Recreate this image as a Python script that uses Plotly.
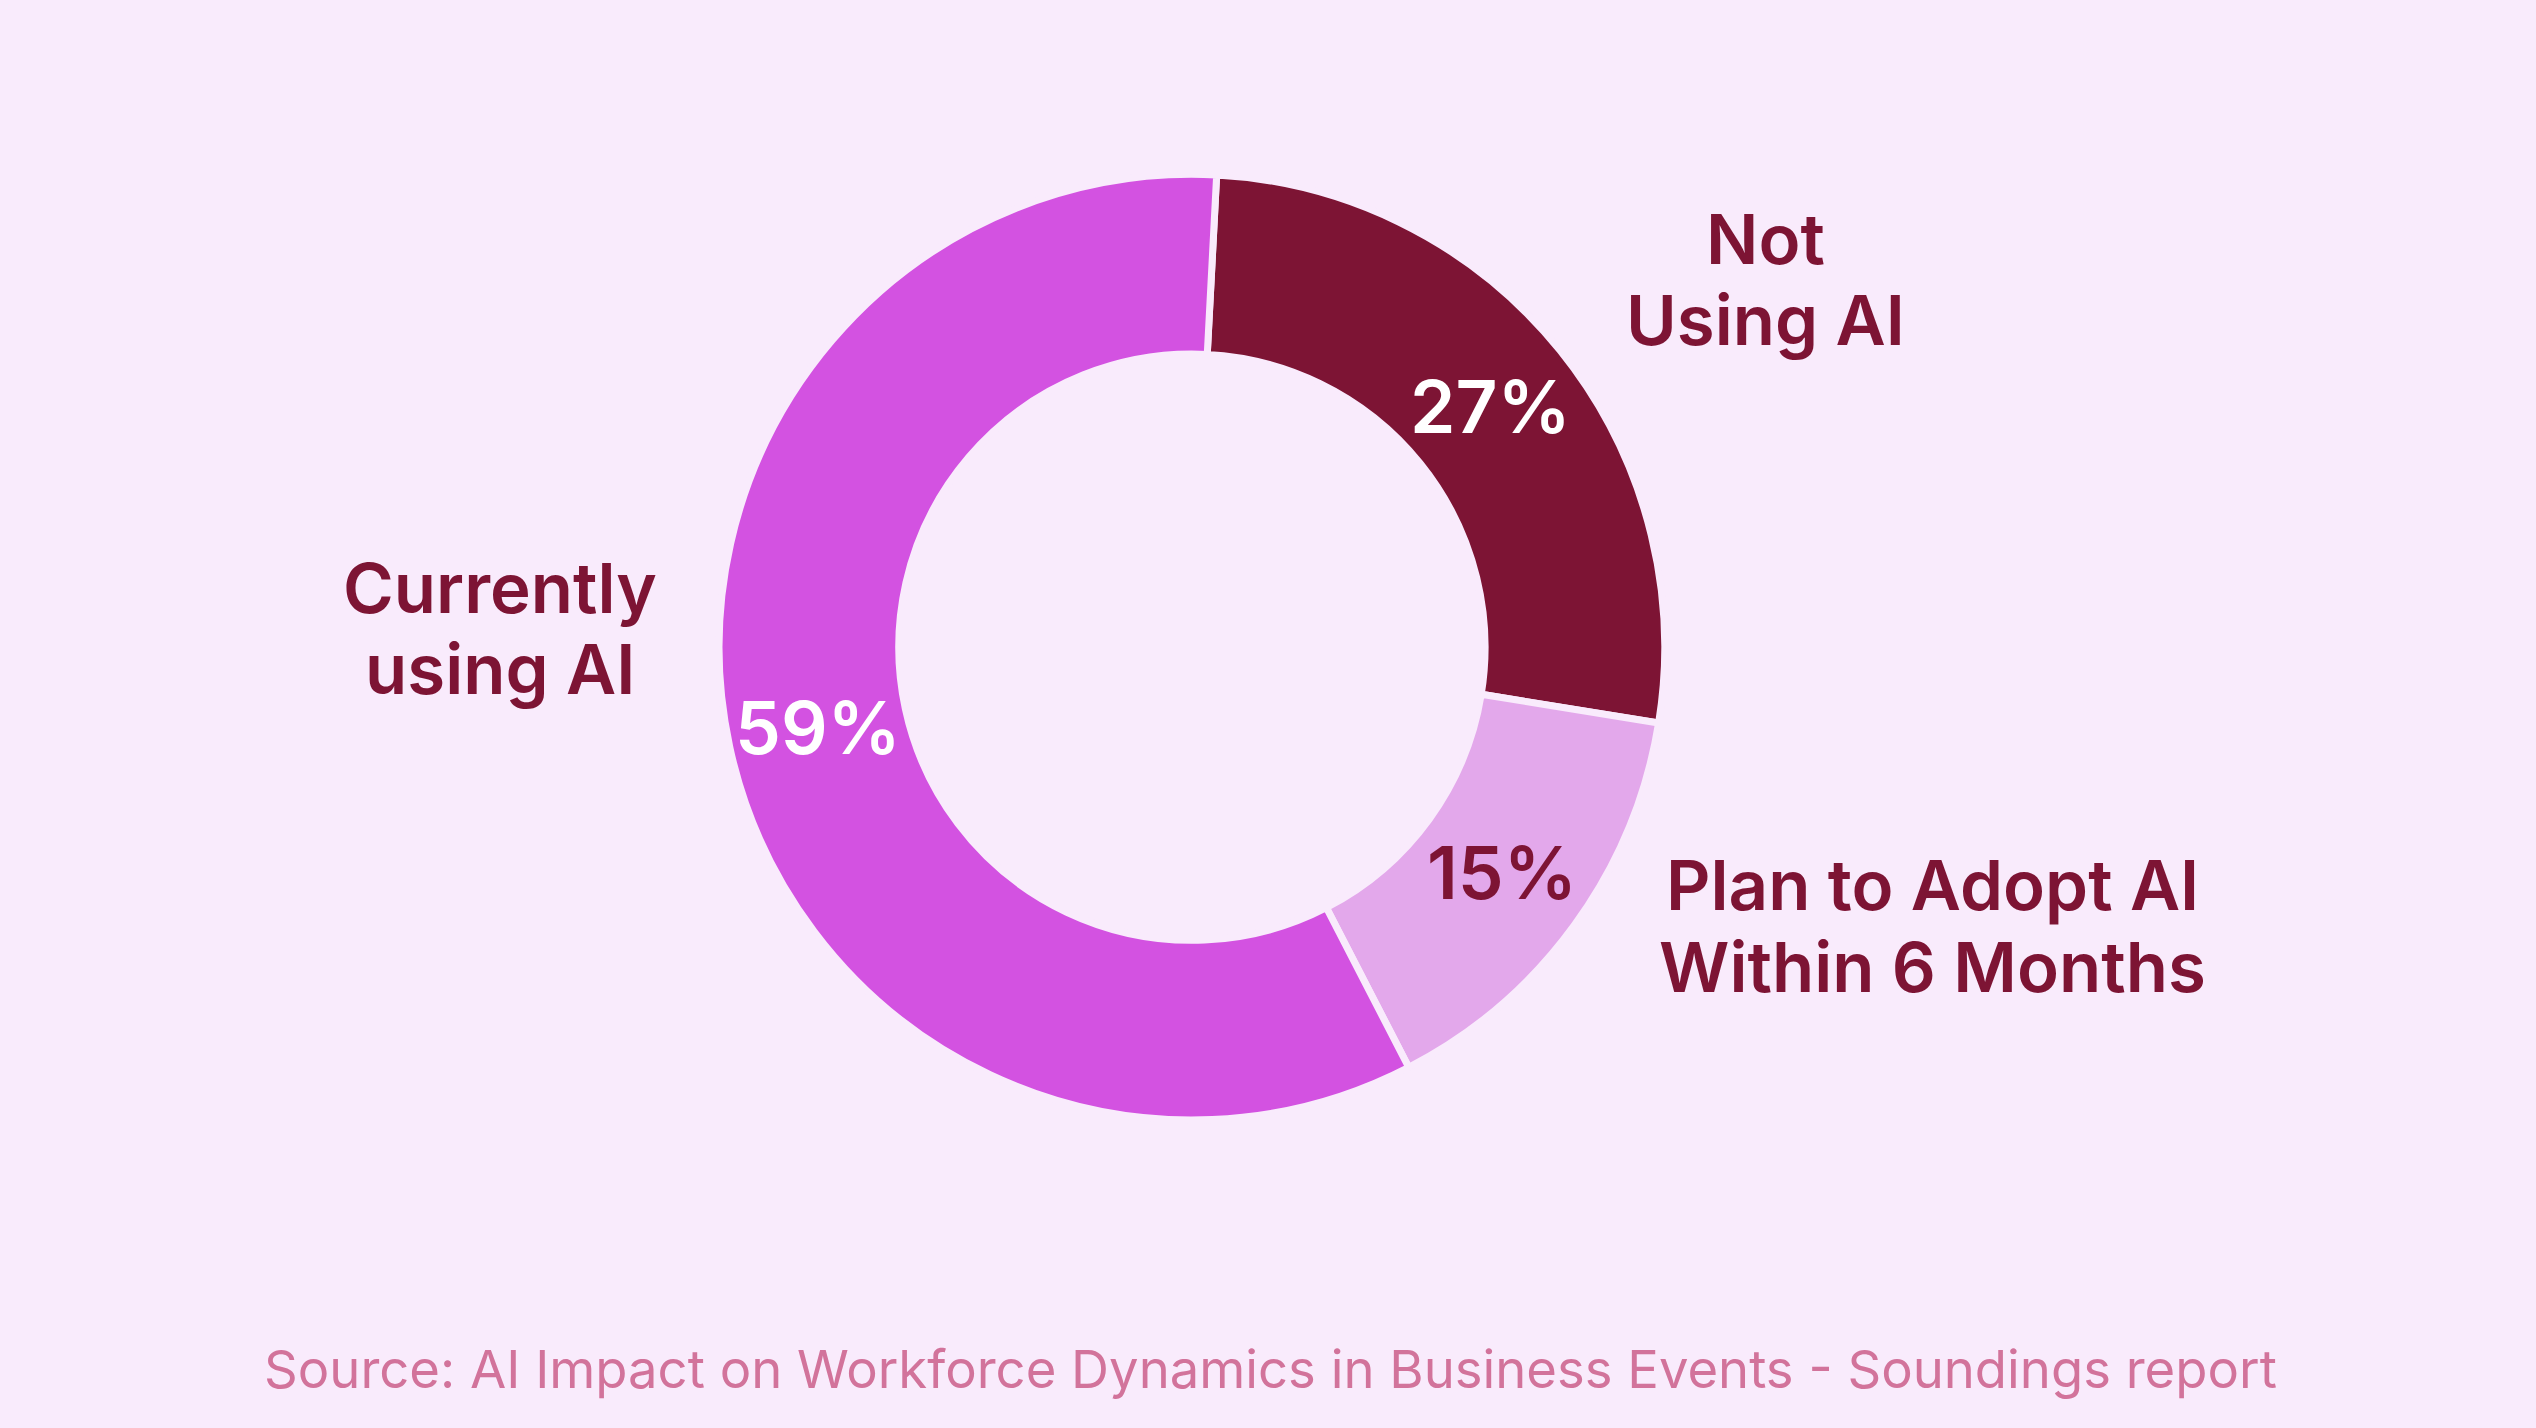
import math
import plotly.graph_objects as go

# ------------------------------------------------------------
# Data
# ------------------------------------------------------------
labels = ["Not Using AI", "Plan to Adopt AI Within 6 Months", "Currently using AI"]
values = [27, 15, 59]
slice_colors = ["#7D1434", "#E3A8EB", "#D352E1"]
pct_colors = ["#FFFFFF", "#7D1434", "#FFFFFF"]

# outside labels, one entry per line
label_lines = [["Not", "Using AI"], ["Plan to Adopt AI", "Within 6 Months"], ["Currently", "using AI"]]
source_text = "Source: AI Impact on Workforce Dynamics in Business Events - Soundings report"

BG = "#F9EBFC"
MAROON = "#7D1434"
W, H = 2536, 1428
ROTATION = 3
HOLE = 0.62
DOM_X = [0.283, 0.657]
DOM_Y = [0.2157, 0.8779]

# ------------------------------------------------------------
# Donut
# ------------------------------------------------------------
fig = go.Figure(go.Pie(
    labels=labels,
    values=values,
    sort=False,
    direction="clockwise",
    rotation=ROTATION,
    hole=HOLE,
    marker=dict(colors=slice_colors, line=dict(color=BG, width=7)),
    textinfo="none",
    hoverinfo="label+value",
    domain=dict(x=DOM_X, y=DOM_Y),
    showlegend=False,
))

# percentage labels at the middle of each slice
cx = (DOM_X[0] + DOM_X[1]) / 2
cy = (DOM_Y[0] + DOM_Y[1]) / 2
radius_px = (DOM_Y[1] - DOM_Y[0]) * H / 2
text_r = radius_px * (HOLE + 1) / 2
total = sum(values)
cum = 0
for v, col in zip(values, pct_colors):
    ang = math.radians(ROTATION + 360 * (cum + v / 2) / total)
    cum += v
    fig.add_annotation(
        x=cx + text_r * math.sin(ang) / W,
        y=cy + text_r * math.cos(ang) / H,
        xref="paper", yref="paper",
        text=f"{v}%", showarrow=False,
        xanchor="center", yanchor="middle",
        font=dict(family="Inter", size=73, color=col, weight=600),
    )

# outside category labels
label_pos = [(0.696, [0.8326, 0.7757]), (0.762, [0.3800, 0.3228]), (0.197, [0.5883, 0.5316])]
for lines, (px, ys) in zip(label_lines, label_pos):
    for txt, py in zip(lines, ys):
        fig.add_annotation(
            x=px, y=py, xref="paper", yref="paper",
            text=txt, showarrow=False,
            xanchor="center", yanchor="middle",
            font=dict(family="Inter", size=69, color=MAROON, weight=600),
        )

fig.add_annotation(
    x=0.501, y=0.041, xref="paper", yref="paper",
    text=source_text, showarrow=False,
    xanchor="center", yanchor="middle",
    font=dict(family="Inter", size=52.6, color="#D2739B"),
)

fig.update_layout(
    width=W,
    height=H,
    margin=dict(l=0, r=0, t=0, b=0),
    paper_bgcolor=BG,
    plot_bgcolor=BG,
    font=dict(family="Inter"),
)

fig.write_html(
    "out.html",
    config={"displayModeBar": False},
    post_script="document.body.style.margin='0';",
)
